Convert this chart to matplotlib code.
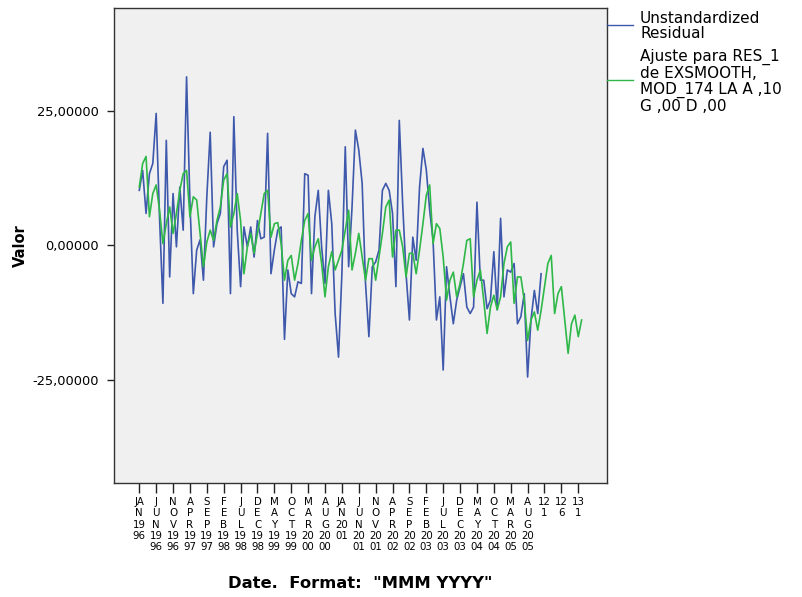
import matplotlib
matplotlib.use('Agg')
import matplotlib.pyplot as plt
from matplotlib.lines import Line2D

# Unstandardized residual (observations 1..120)
residual = [10.2, 13.9, 5.9, 13.3, 15.2, 24.5, 5.0, -10.8, 19.5, -5.9,
            9.6, -0.3, 10.8, 2.8, 31.3, 8.0, -9.0, -0.9, 1.0, -6.5,
            9.0, 21.0, -0.3, 4.0, 5.9, 14.6, 15.8, -9.0, 23.9, 2.8,
            -7.7, 3.4, -0.3, 3.4, -2.2, 4.6, 1.2, 1.5, 20.8, -5.3,
            -0.9, 2.8, 3.4, -17.5, -4.6, -9.0, -9.6, -6.8, -7.1, 13.3,
            13.0, -9.0, 5.3, 10.2, -0.3, -7.1, 10.2, 4.0, -12.7, -20.8,
            -5.3, 18.3, -4.0, 7.0, 21.4, 17.7, 11.5, -7.1, -17.0, -4.0,
            -3.1, -0.9, 10.2, 11.5, 10.2, 5.9, -7.7, 23.2, 7.7, -5.3,
            -13.9, 1.5, -2.8, 10.8, 18.0, 14.0, 6.5, 0.9, -13.9, -9.6,
            -23.2, -4.0, -9.6, -14.6, -10.2, -7.7, -5.3, -11.5, -12.7, -11.5,
            8.0, -6.5, -6.5, -11.8, -10.2, -1.2, -12.0, 5.0, -9.6, -4.6,
            -5.0, -3.4, -14.6, -13.3, -9.0, -24.5, -13.9, -8.4, -12.7, -5.3]

# Exponential smoothing fit (observations 1..132)
fit = [10.8, 15.2, 16.5, 5.3, 9.6, 11.2, 6.5, 0.3, 4.0, 7.1,
       2.2, 5.9, 10.2, 13.3, 13.9, 5.3, 9.0, 8.4, 2.2, -4.0,
       0.6, 2.8, 0.9, 4.6, 7.1, 12.1, 13.3, 3.4, 5.9, 9.6,
       4.6, -5.3, -0.3, 2.2, -1.5, 2.2, 5.9, 9.6, 10.2, 1.5,
       4.0, 4.2, 0.3, -6.5, -2.8, -1.9, -6.5, -3.4, 0.9, 4.6,
       5.9, -2.8, -0.3, 1.2, -3.4, -9.6, -4.0, -1.2, -4.6, -2.8,
       -0.9, 2.8, 6.5, -4.6, -1.5, 2.2, -2.2, -6.5, -2.5, -2.5,
       -6.5, -2.2, 2.2, 7.1, 8.4, -2.2, 2.8, 2.8, -0.3, -5.9,
       -1.5, -1.5, -5.3, -0.9, 4.0, 9.3, 11.2, 0.3, 4.0, 3.1,
       -2.2, -10.2, -6.5, -5.0, -9.6, -7.1, -3.4, 0.9, 1.2, -9.6,
       -6.5, -4.6, -10.2, -16.4, -11.5, -9.3, -12.0, -9.6, -3.4, -0.3,
       0.6, -10.8, -5.9, -5.9, -10.2, -17.7, -13.9, -12.4, -15.8, -12.1,
       -7.7, -3.4, -1.9, -12.7, -9.0, -7.7, -13.9, -20.1, -14.6, -13.0,
       -17.0, -13.9]

tick_positions = list(range(1, 132, 5))
tick_texts = ["JAN 1996", "JUN 1996", "NOV 1996", "APR 1997", "SEP 1997",
              "FEB 1998", "JUL 1998", "DEC 1998", "MAY 1999", "OCT 1999",
              "MAR 2000", "AUG 2000", "JAN 2001", "JUN 2001", "NOV 2001",
              "APR 2002", "SEP 2002", "FEB 2003", "JUL 2003", "DEC 2003",
              "MAY 2004", "OCT 2004", "MAR 2005", "AUG 2005",
              "121", "126", "131"]

y_ticks = [-25, 0, 25]
y_tick_texts = ["-25,00000", "0,00000", "25,00000"]

legend_texts = ["Unstandardized\nResidual",
                "Ajuste para RES_1\nde EXSMOOTH,\nMOD_174 LA A ,10\nG ,00 D ,00"]


def wrap_label(s):
    parts = s.split()
    if len(parts) == 1:
        return s[:2] + "\n" + s[2:]
    mon, yr = parts
    if mon.startswith("JA"):
        m = ["JA", mon[2:]]
    else:
        m = list(mon)
    return "\n".join(m + [yr[:2], yr[2:]])


BLUE = '#3e58ac'
GREEN = '#2eb848'

plt.rcParams['font.family'] = ['DejaVu Sans']

fig = plt.figure(figsize=(8.02, 5.97), dpi=100)
ax = fig.add_axes([0.1421, 0.1910, 0.6147, 0.7956])
ax.set_facecolor('#f0f0f0')

ax.plot(range(1, len(residual) + 1), residual, color=BLUE, lw=1.2)
ax.plot(range(1, len(fit) + 1), fit, color=GREEN, lw=1.2)

ax.set_xlim(-6.5, 139.5)
ax.set_ylim(-44.2, 44.1)

ax.set_xticks(tick_positions)
ax.set_xticklabels([wrap_label(t) for t in tick_texts], fontsize=7.4,
                   linespacing=1.17)
ax.set_yticks(y_ticks)
ax.set_yticklabels(y_tick_texts, fontsize=9.4)
ax.tick_params(axis='x', length=7, width=1, pad=3, color='#222222')
ax.tick_params(axis='y', length=5, width=1, pad=6, color='#222222')

for sp in ax.spines.values():
    sp.set_color('#333333')
    sp.set_linewidth(1.0)

ax.set_ylabel("Valor", fontsize=10.5, fontweight='bold', labelpad=3)
fig.text(0.4495, 1 - 583 / 597, 'Date.  Format:  "MMM YYYY"', fontsize=11.8,
         fontweight='bold', ha='center', va='center')

# legend outside on the right
x0 = 607 / 802
x1 = 633 / 802
xt = 640 / 802
for txt, col, yc in [(legend_texts[0], BLUE, 25), (legend_texts[1], GREEN, 80)]:
    fig.add_artist(Line2D([x0, x1], [1 - yc / 597, 1 - yc / 597],
                          color=col, lw=1.0, transform=fig.transFigure))
    fig.text(xt, 1 - (yc + 1) / 597, txt, fontsize=11, ha='left', va='center',
             linespacing=1.08)

fig.savefig('out.png', dpi=100, facecolor='white')
